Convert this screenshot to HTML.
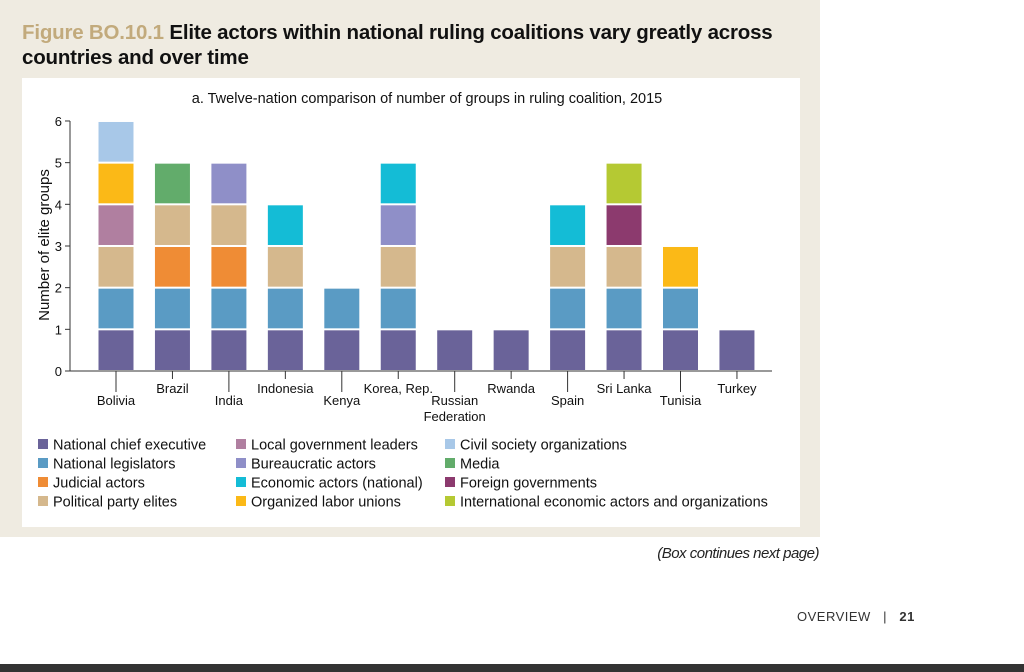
<!DOCTYPE html>
<html><head><meta charset="utf-8"><style>
body{margin:0;width:1024px;height:672px;background:#fff;position:relative;overflow:hidden;font-family:"Liberation Sans",sans-serif;}
#box{position:absolute;left:0;top:0;width:820px;height:537px;background:#efebe1;}
#title{position:absolute;left:22px;top:20px;font:bold 20.5px "Liberation Sans",sans-serif;line-height:25px;color:#111;letter-spacing:-0.2px;}
#title span{color:#c2aa7c;}
#panel{position:absolute;left:22px;top:78px;width:778px;height:449px;background:#fff;}
svg{position:absolute;left:0;top:0;}
#foot1{position:absolute;right:205px;top:545px;font-style:italic;font-size:15px;color:#222;letter-spacing:-0.5px;}
#foot2{position:absolute;left:797px;top:609px;font:13px "Liberation Sans",sans-serif;color:#333;letter-spacing:0.5px;}
#bar{position:absolute;left:0;top:664px;width:1024px;height:8px;background:#333;}
</style></head><body>
<div id="box"></div>
<div id="title"><span>Figure BO.10.1</span> Elite actors within national ruling coalitions vary greatly across<br>countries and over time</div>
<div id="panel"></div>
<svg id="chart" width="1024" height="672"></svg>
<div id="foot1">(Box continues next page)</div>
<div id="foot2">OVERVIEW &nbsp;&nbsp;|&nbsp;&nbsp; <b>21</b></div>
<div id="bar"></div>
<script>
const countries=["Bolivia","Brazil","India","Indonesia","Kenya","Korea, Rep.","Russian|Federation","Rwanda","Spain","Sri Lanka","Tunisia","Turkey"];
const groups=["National chief executive","National legislators","Judicial actors","Political party elites","Local government leaders","Bureaucratic actors","Economic actors (national)","Organized labor unions","Civil society organizations","Media","Foreign governments","International economic actors and organizations"];
const colors=["#6a6399","#5a9bc4","#ef8c35","#d5b88d","#b07fa0","#8f8fc8","#14bcd6","#fbb917","#a8c8e8","#62ac6b","#8c3a6e","#b5c933"];
const stacks=[[0,1,3,4,7,8],[0,1,2,3,9],[0,1,2,3,5],[0,1,3,6],[0,1],[0,1,3,5,6],[0],[0],[0,1,3,6],[0,1,3,10,11],[0,1,7],[0]];
const yTicks=[0,1,2,3,4,5,6];
const NS="http://www.w3.org/2000/svg";
const svg=document.getElementById('chart');
const y0=371,unit=41.67,x0=116,step=56.45,bw=35;
const yS=v=>y0-v*unit, xS=i=>x0+i*step;
function el(t,a,p){const e=document.createElementNS(NS,t);for(const k in a)e.setAttribute(k,a[k]);(p||svg).appendChild(e);return e;}
let t=el('text',{x:427,y:103,'font-size':14.5,'text-anchor':'middle',fill:'#111'});t.textContent="a. Twelve-nation comparison of number of groups in ruling coalition, 2015";


t=el('text',{x:0,y:0,'font-size':15,'text-anchor':'middle',fill:'#111',transform:'translate(49,245) rotate(-90)'});t.textContent="Number of elite groups";


let l=el('line',{x1:70,x2:70,y1:yS(6),y2:y0,stroke:'#333','stroke-width':1});


yTicks.forEach(v=>{el('line',{x1:65,x2:70,y1:yS(v),y2:yS(v),stroke:'#333'});
 const tt=el('text',{x:62,y:yS(v)+5,'font-size':13,'text-anchor':'end',fill:'#111'});tt.textContent=v;
 
 });
stacks.forEach((s,i)=>{
 s.forEach((g,k)=>{const r=el('rect',{x:xS(i)-bw/2,y:yS(k+1)+1,width:bw,height:unit-2,fill:colors[g]});
  
  });
 const low=i%2===0;
 el('line',{x1:xS(i),x2:xS(i),y1:y0,y2:low?y0+21:y0+8,stroke:'#333'});
 const parts=countries[i].split('|');
 parts.forEach((p,j)=>{const tx=el('text',{x:xS(i),y:(low?405:393)+j*16,'font-size':13,'text-anchor':'middle',fill:'#111'});tx.textContent=p;
  
  });
});
l=el('line',{x1:70,x2:772,y1:y0,y2:y0,stroke:'#333'});


const colX=[38,236,445];
groups.forEach((g,i)=>{const c=Math.floor(i/4),r=i%4;const x=colX[c],y=445+r*19;
 const gr=el('g',{});
 
 
 el('rect',{x:x,y:y-6,width:10,height:10,fill:colors[i]},gr);
 const tx=el('text',{x:x+15,y:y+4.5,'font-size':14.5,fill:'#111'},gr);tx.textContent=g;});
</script>
</body></html>
